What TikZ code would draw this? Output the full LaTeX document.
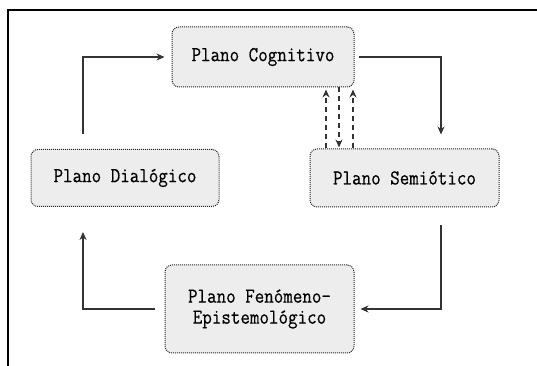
\documentclass[tikz,border=0pt]{standalone}
\usepackage{graphicx}
\usepackage{fontspec}
\newfontfamily\boxfont{Latin Modern Mono}[FakeBold=0.5]
\usetikzlibrary{arrows.meta}
\newcommand\vstretch[1]{\scalebox{1}[1.15]{#1}}
\begin{document}
\begin{tikzpicture}[x=1pt,y=1pt,
  box/.style={draw=black!85, densely dotted, line width=1pt, fill=black!7,
    rounded corners=7pt, inner sep=0pt, align=center,
    font=\boxfont\fontsize{18.5}{21}\selectfont},
  arr/.style={draw=black!80, line width=1.3pt, -{Stealth[length=8pt,width=7pt]}},
  darr/.style={arr, dash pattern=on 5pt off 4pt}]
\useasboundingbox (0,0) rectangle (537,366);
\draw[line width=2pt] (8,0) -- (8,356) -- (537,356);

\node[box, minimum width=182pt, minimum height=60pt] (cog) at (263,309) {\vstretch{Plano Cognitivo}};
\node[box, minimum width=188pt, minimum height=57pt] (dia) at (125,188) {\vstretch{Plano Dialógico}};
\node[box, minimum width=189pt, minimum height=58pt] (sem) at (404.5,188) {\vstretch{Plano Semiótico}};
\node[box, minimum width=189pt, minimum height=88pt] (fen) at (259.5,57) {\vstretch{Plano Fenómeno-}\\\vstretch{Epistemológico}};

\coordinate (lx) at (83,0);
\coordinate (rx) at (441,0);
\coordinate (d1) at (326,0);
\coordinate (d2) at (339,0);
\coordinate (d3) at (353,0);

\draw[arr] ([yshift=15pt]dia.north -| lx) |- ([xshift=-7pt]cog.west);
\draw[arr] ([xshift=4pt]cog.east) -| ([yshift=14pt]sem.north -| rx);
\draw[arr] ([yshift=-18pt]sem.south -| rx) |- ([xshift=6pt]fen.east);
\draw[arr] ([xshift=-10pt]fen.west) -| ([yshift=-25pt]dia.south -| lx);

\draw[darr] (sem.north -| d1) -- ([yshift=-2pt]cog.south -| d1);
\draw[darr] (cog.south -| d2) -- ([yshift=1pt]sem.north -| d2);
\draw[darr] (sem.north -| d3) -- ([yshift=-2pt]cog.south -| d3);
\end{tikzpicture}
\end{document}
